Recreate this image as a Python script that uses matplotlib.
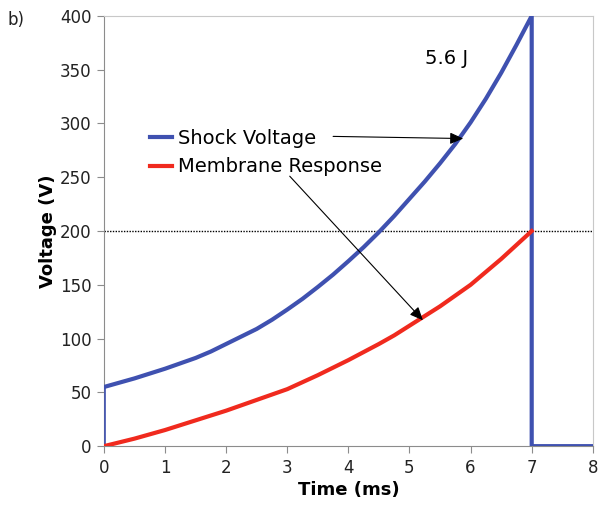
import matplotlib.pyplot as plt

# values
time_ms = [0, 0.25, 0.5, 0.75, 1, 1.25, 1.5, 1.75, 2, 2.25, 2.5, 2.75, 3, 3.25,
           3.5, 3.75, 4, 4.25, 4.5, 4.75, 5, 5.25, 5.5, 5.75, 6, 6.25, 6.5,
           6.75, 7]
shock_v = [55, 59, 63, 67.5, 72, 77, 82, 88, 95, 102, 109, 117.5, 127, 137,
           148, 159.5, 172, 185, 199, 214, 230, 246, 263, 281, 301, 323, 347,
           373, 400]
membrane_v = [0, 3.5, 7, 11, 15, 19.5, 24, 28.5, 33, 38, 43, 48, 53, 59.5, 66,
              73, 80, 87.5, 95, 103, 112, 121, 130, 140, 150, 162, 174, 187, 200]

# shock pulse cut-off at t=7, then zero until t=8
pulse_t = time_ms + [7, 8]
pulse_v = shock_v + [0, 0]

blue = '#3f51b0'
red = '#f02a1e'
grey = '#8c8c8c'

plt.rcParams['font.family'] = ['DejaVu Sans']

fig = plt.figure(figsize=(6.08, 5.14), dpi=100)
ax = fig.add_axes([0.171, 0.132, 0.804, 0.837])

# thin rising edge at t=0
ax.plot([0.02, 0.02], [0, shock_v[0]], color=blue, lw=1.2, zorder=3)
ax.plot(pulse_t, pulse_v, color=blue, lw=3, label='Shock Voltage', zorder=3)
ax.plot(time_ms, membrane_v, color=red, lw=3, label='Membrane Response', zorder=3)
ax.axhline(200, color='black', lw=1, ls=(0, (1, 1)), zorder=2)

ax.set_xlim(0, 8)
ax.set_ylim(0, 400)
ax.set_xticks(range(0, 9))
ax.set_yticks(range(0, 401, 50))
ax.tick_params(direction='out', length=5, color=grey, labelsize=12,
               labelcolor='#222222', pad=4)
for side in ['left', 'bottom']:
    ax.spines[side].set_color(grey)
for side in ['top', 'right']:
    ax.spines[side].set_color('#c8c8c8')

ax.set_xlabel('Time (ms)', fontsize=13, fontweight='bold', labelpad=3)
ax.set_ylabel('Voltage (V)', fontsize=13, fontweight='bold', labelpad=2)

ax.legend(loc='upper left', bbox_to_anchor=(0.094, 0.738), frameon=False,
          fontsize=14, handlelength=1.15, handletextpad=0.3, labelspacing=0.5,
          borderpad=0, borderaxespad=0)

arrow = dict(arrowstyle='-|>,head_length=0.8,head_width=0.35', color='black',
             lw=0.8, shrinkA=0, shrinkB=0)
ax.annotate('', xy=(5.88, 286), xytext=(3.75, 288), arrowprops=arrow)
ax.annotate('', xy=(5.22, 117), xytext=(3.04, 251), arrowprops=arrow)

ax.text(5.25, 360, '5.6 J', fontsize=14, va='center')
fig.text(0.013, 0.962, 'b)', fontsize=12, color='#222222', va='center')

fig.savefig('out.png', dpi=100)
